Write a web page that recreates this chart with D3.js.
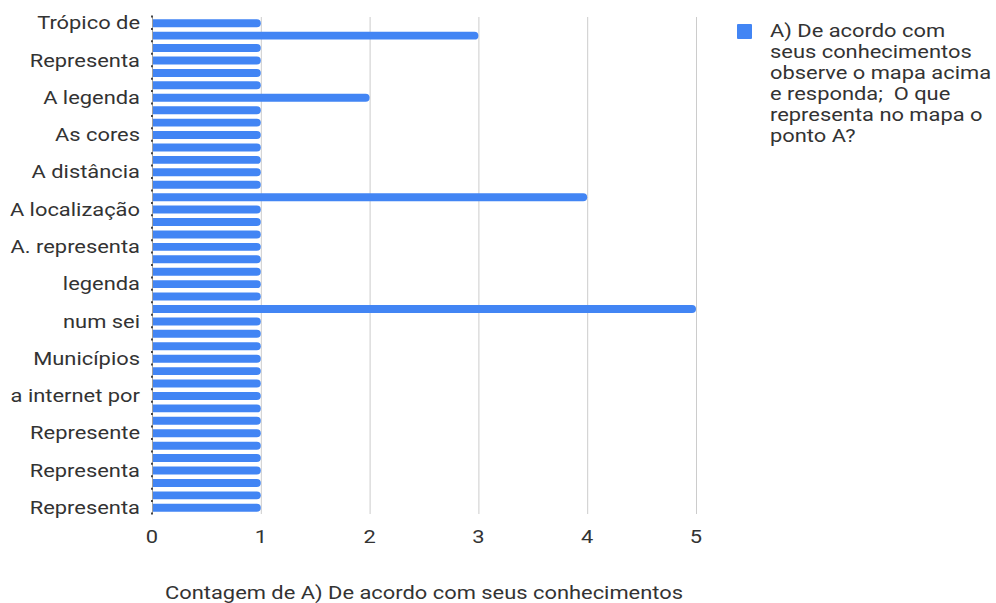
<!DOCTYPE html>
<html>
<head>
<meta charset="utf-8">
<script src="https://cdn.jsdelivr.net/npm/d3@7/dist/d3.min.js"></script>
<style>
  html, body { margin: 0; padding: 0; background: #fff; }
  svg { display: block; font-family: Roboto, "Noto Sans", Arial, sans-serif; }
</style>
</head>
<body>
<svg id="chart" width="996" height="603"></svg>
<script>
// Visible category labels (every third bar carries a label; hidden ones left blank)
const labels = [
  "Trópico de", "", "", "Representa", "", "", "A legenda", "", "", "As cores",
  "", "", "A distância", "", "", "A localização", "", "", "A. representa", "",
  "", "legenda", "", "", "num sei", "", "", "Municípios", "", "",
  "a internet por", "", "", "Represente", "", "", "Representa", "", "", "Representa"
];
const values = [
  1, 3, 1, 1, 1, 1, 2, 1, 1, 1,
  1, 1, 1, 1, 4, 1, 1, 1, 1, 1,
  1, 1, 1, 5, 1, 1, 1, 1, 1, 1,
  1, 1, 1, 1, 1, 1, 1, 1, 1, 1
];
const xTicks = [0, 1, 2, 3, 4, 5];
const seriesName = ["A) De acordo com", "seus conhecimentos", "observe o mapa acima", "e responda;  O que", "representa no mapa o", "ponto A?"];
const xTitle = "Contagem de A) De acordo com seus conhecimentos";

(function () {
const svg = d3.select("#chart");
const pLeft = 152, pRight = 696, pTop = 17, pBottom = 514;
const fs = 17.5;
const x = d3.scaleLinear().domain([0, 5]).range([pLeft, pRight]);
const y = d3.scaleBand().domain(d3.range(values.length)).range([pTop, pBottom]).paddingInner(0.36).paddingOuter(0.18);

// gridlines
svg.append("g").selectAll("line").data(xTicks.filter(d => d > 0)).join("line")
  .attr("x1", d => x(d) + 0.5).attr("x2", d => x(d) + 0.5)
  .attr("y1", pTop).attr("y2", pBottom)
  .attr("stroke", "#cccccc").attr("stroke-width", 1);

// bars with rounded right end
const bh = y.bandwidth();
const r = Math.min(4, bh / 2);
svg.append("g").selectAll("path").data(values).join("path")
  .attr("fill", "#4285f4")
  .attr("d", (d, i) => {
    const x0 = x(0), x1 = x(d), y0 = y(i), y1 = y0 + bh;
    return `M${x0},${y0} H${x1 - r} Q${x1},${y0} ${x1},${y0 + r} V${y1 - r} Q${x1},${y1} ${x1 - r},${y1} H${x0} Z`;
  });

// y axis line and ticks at band boundaries
svg.append("line").attr("x1", pLeft + 0.5).attr("x2", pLeft + 0.5).attr("y1", pTop).attr("y2", pBottom)
  .attr("stroke", "#9e9e9e");
const step = y.step();
svg.append("g").selectAll("line").data(d3.range(values.length + 1)).join("line")
  .attr("x1", pLeft - 1).attr("x2", pLeft + 1)
  .attr("y1", i => pTop + i * step - 0.5).attr("y2", i => pTop + i * step - 0.5)
  .attr("stroke", "#444").attr("stroke-width", 2);

// y labels
svg.append("g").selectAll("text").data(labels).join("text")
  .attr("class", "t")
  .attr("x", 140).attr("y", (d, i) => y(i) + bh / 2)
  .attr("dy", "0.35em").attr("text-anchor", "end")
  .text(d => d);

// x tick labels
svg.append("g").selectAll("text").data(xTicks).join("text")
  .attr("class", "t")
  .attr("x", d => x(d)).attr("y", 537).attr("dy", "0.35em")
  .attr("text-anchor", "middle")
  .text(d => d);

// x title
const title = svg.append("text").attr("class", "t").attr("x", 424).attr("y", 593).attr("dy", "0.35em")
  .attr("text-anchor", "middle")
  .text(xTitle);

// legend
svg.append("rect").attr("x", 737).attr("y", 24).attr("width", 15).attr("height", 15).attr("rx", 1)
  .attr("fill", "#4285f4");
svg.append("g").selectAll("text").data(seriesName).join("text")
  .attr("class", "t")
  .attr("x", 770).attr("y", (d, i) => 31 + i * 21).attr("dy", "0.35em")
  .style("white-space", "pre")
  .text(d => d);

svg.selectAll("text.t").attr("font-size", fs).attr("fill", "#333");
// horizontal stretch to match the reference's wide glyphs
const k = 518 / title.node().getComputedTextLength();
svg.selectAll("text.t").each(function () {
  const len = this.getComputedTextLength();
  if (len > 0) d3.select(this).attr("textLength", len * k).attr("lengthAdjust", "spacingAndGlyphs");
});
})();
</script>
</body>
</html>
